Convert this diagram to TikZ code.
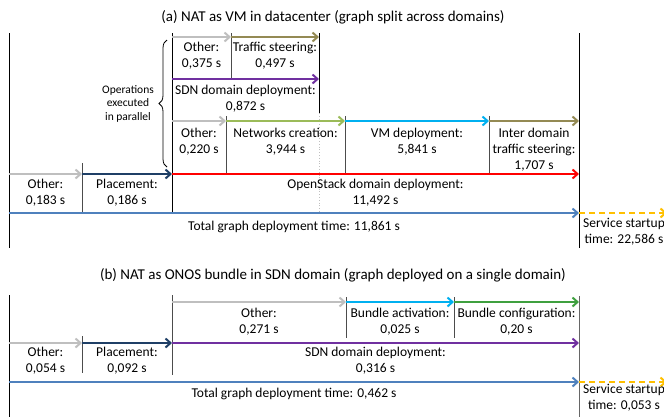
\documentclass[tikz,border=0pt]{standalone}
\usepackage{fontspec}
\setmainfont{Carlito}
\usetikzlibrary{arrows.meta,decorations.pathreplacing}
\definecolor{cgrey}{HTML}{BFBFBF}
\definecolor{colive}{HTML}{948A54}
\definecolor{cpurple}{HTML}{7030A0}
\definecolor{clgreen}{HTML}{9BBB59}
\definecolor{ccyan}{HTML}{00B0F0}
\definecolor{cred}{HTML}{FF0000}
\definecolor{cnavy}{HTML}{1F3F66}
\definecolor{cblue}{HTML}{4F81BD}
\definecolor{corange}{HTML}{FFC000}
\definecolor{cgreen}{HTML}{3FA03F}
\begin{document}
\begin{tikzpicture}[x=1pt,y=-1pt,
  arr/.style={line width=2pt,-{Straight Barb[length=5pt,width=9pt]}},
  dasharr/.style={arr,color=corange,dash pattern=on 6pt off 4pt},
  bnd/.style={line width=0.9pt,black},
  inl/.style={line width=0.8pt,black!70},
  dotl/.style={line width=0.8pt,cgrey,dotted},
  lbl/.style={align=center,inner sep=0pt,font=\fontsize{13.5}{16}\selectfont},
  ttl/.style={inner sep=0pt,font=\fontsize{15}{18}\selectfont},
  small/.style={align=center,inner sep=0pt,font=\fontsize{11.5}{13.5}\selectfont}]
\useasboundingbox (0,0) rectangle (664,416);
\clip (0,0) rectangle (664,416);

% ---------- panel (a) ----------
\node[ttl] (ta) at (333,17) {(a) NAT as VM in datacenter (graph split across domains)};

\coordinate (aLt) at (9,33);   \coordinate (aLb) at (9,248);
\coordinate (aRt) at (579,33); \coordinate (aRb) at (579,248);
\coordinate (a172t) at (172,33); \coordinate (a172b) at (172,213);
\coordinate (a231t) at (231,33); \coordinate (a231b) at (231,79);
\coordinate (a319t) at (319,33); \coordinate (a319m) at (319,113); \coordinate (a319b) at (319,213);
\coordinate (a82t) at (82,163);  \coordinate (a82b) at (82,213);
\coordinate (a226t) at (226,116); \coordinate (a226b) at (226,174);
\coordinate (a345t) at (345,116); \coordinate (a345b) at (345,174);
\coordinate (a489t) at (489,116); \coordinate (a489b) at (489,174);

\draw[bnd] (aLt) -- (aLb);
\draw[bnd] (aRt) -- (aRb);
\draw[bnd] (a172t) -- (a172b);
\draw[inl] (a231t) -- (a231b);
\draw[bnd] (a319t) -- (a319m);
\draw[dotl] (a319m) -- (a319b);
\draw[inl] (a82t) -- (a82b);
\draw[inl] (a226t) -- (a226b);
\draw[inl] (a345t) -- (a345b);
\draw[inl] (a489t) -- (a489b);

% row 1
\coordinate (r1a) at (172,37); \coordinate (r1b) at (231,37); \coordinate (r1c) at (319,37);
\draw[arr,cgrey] (r1a) -- (r1b);
\draw[arr,colive] (r1b) -- (r1c);
% row 2
\coordinate (r2a) at (172,79); \coordinate (r2b) at (319,79);
\draw[arr,cpurple] (r2a) -- (r2b);
% row 3
\coordinate (r3a) at (172,121); \coordinate (r3b) at (226,121); \coordinate (r3c) at (345,121);
\coordinate (r3d) at (489,121); \coordinate (r3e) at (579,121);
\draw[arr,cgrey] (r3a) -- (r3b);
\draw[arr,clgreen] (r3b) -- (r3c);
\draw[arr,ccyan] (r3c) -- (r3d);
\draw[arr,colive] (r3d) -- (r3e);
% row 4
\coordinate (r4a) at (9,174); \coordinate (r4b) at (82,174); \coordinate (r4c) at (172,174); \coordinate (r4d) at (579,174);
\draw[arr,cgrey] (r4a) -- (r4b);
\draw[arr,cnavy] (r4b) -- (r4c);
\draw[arr,cred] (r4c) -- (r4d);
% row 5
\coordinate (r5a) at (9,213); \coordinate (r5b) at (579,213); \coordinate (r5c) at (667,213);
\draw[arr,cblue] (r5a) -- (r5b);
\draw[dasharr] (r5b) -- (r5c);

% brace
\coordinate (brb) at (167,167); \coordinate (brt) at (167,40);
\draw[line width=0.8pt,decorate,decoration={brace,amplitude=8pt}] (brb) -- (brt);
\node[small] (par) at (128,103.5) {Operations\\executed\\in parallel};

\node[lbl] (o1) at (201.5,56) {Other:\\0,375 s};
\node[lbl] (ts1) at (275,56) {Traffic steering:\\0,497 s};
\node[lbl] (sdn1) at (245.5,98.5) {SDN domain deployment:\\0,872 s};
\node[lbl] (o2) at (199,141.5) {Other:\\0,220 s};
\node[lbl] (nc) at (285.5,141.5) {Networks creation:\\3,944 s};
\node[lbl] (vm) at (417,141.5) {VM deployment:\\5,841 s};
\node[lbl] (ids) at (534,149.5) {Inter domain\\traffic steering:\\1,707 s};
\node[lbl] (o3) at (45.5,192.5) {Other:\\0,183 s};
\node[lbl] (pl1) at (127,192.5) {Placement:\\0,186 s};
\node[lbl] (osd) at (375.5,192.5) {OpenStack domain deployment:\\11,492 s};
\node[lbl] (tot1) at (294,227) {Total graph deployment time: 11,861 s};
\node[lbl] (svc1) at (624,232) {Service startup\\time: 22,586 s};

% ---------- panel (b) ----------
\node[ttl] (tb) at (333,275) {(b) NAT as ONOS bundle in SDN domain (graph deployed on a single domain)};

\coordinate (bLt) at (9,295);   \coordinate (bLb) at (9,418);
\coordinate (bRt) at (579,296); \coordinate (bRb) at (579,418);
\coordinate (b172t) at (172,295); \coordinate (b172b) at (172,375);
\coordinate (b82t) at (82,336);   \coordinate (b82b) at (82,373);
\coordinate (b346t) at (346,297); \coordinate (b346b) at (346,338);
\coordinate (b454t) at (454,297); \coordinate (b454b) at (454,338);
\draw[bnd] (bLt) -- (bLb);
\draw[bnd,black!60] (bRt) -- (bRb);
\draw[bnd,black!70] (b172t) -- (b172b);
\draw[inl] (b82t) -- (b82b);
\draw[inl] (b346t) -- (b346b);
\draw[inl] (b454t) -- (b454b);

\coordinate (s1a) at (172,302); \coordinate (s1b) at (346,302); \coordinate (s1c) at (454,302); \coordinate (s1d) at (579,302);
\draw[arr,cgrey] (s1a) -- (s1b);
\draw[arr,ccyan] (s1b) -- (s1c);
\draw[arr,cgreen] (s1c) -- (s1d);
\coordinate (s2a) at (9,343); \coordinate (s2b) at (82,343); \coordinate (s2c) at (172,343); \coordinate (s2d) at (579,343);
\draw[arr,cgrey] (s2a) -- (s2b);
\draw[arr,cnavy] (s2b) -- (s2c);
\draw[arr,cpurple] (s2c) -- (s2d);
\coordinate (s3a) at (9,382); \coordinate (s3b) at (579,382); \coordinate (s3c) at (667,382);
\draw[arr,cblue] (s3a) -- (s3b);
\draw[dasharr] (s3b) -- (s3c);

\node[lbl] (o4) at (259,322) {Other:\\0,271 s};
\node[lbl] (ba) at (400,322) {Bundle activation:\\0,025 s};
\node[lbl] (bc) at (516.5,322) {Bundle configuration:\\0,20 s};
\node[lbl] (o5) at (45.5,361) {Other:\\0,054 s};
\node[lbl] (pl2) at (127,361) {Placement:\\0,092 s};
\node[lbl] (sdn2) at (375.5,361) {SDN domain deployment:\\0,316 s};
\node[lbl] (tot2) at (294,394) {Total graph deployment time: 0,462 s};
\node[lbl] (svc2) at (624,398) {Service startup\\time: 0,053 s};
\end{tikzpicture}
\end{document}
